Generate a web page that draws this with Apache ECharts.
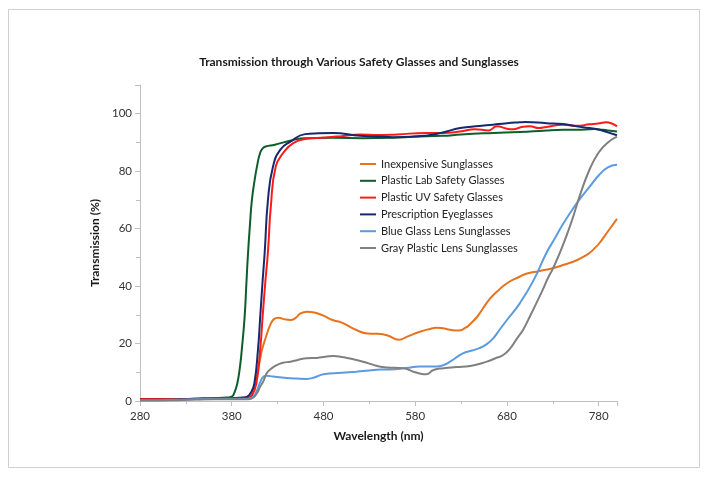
<!DOCTYPE html>
<html>
<head>
<meta charset="utf-8">
<script src="https://cdn.jsdelivr.net/npm/echarts@6/dist/echarts.min.js"></script>
<style>
html,body{margin:0;padding:0;background:#fff;}
#chart{width:709px;height:477px;}
</style>
</head>
<body>
<div id="chart"></div>
<script>
var titleText = 'Transmission through Various Safety Glasses and Sunglasses';
var xAxisName = 'Wavelength (nm)';
var yAxisName = 'Transmission (%)';
var seriesNames = ['Inexpensive Sunglasses','Plastic Lab Safety Glasses','Plastic UV Safety Glasses','Prescription Eyeglasses','Blue Glass Lens Sunglasses','Gray Plastic Lens Sunglasses'];
var seriesColors = ['#E8731E','#0E5E2C','#FF1A1A','#16296E','#5B9BE0','#808080'];

var inexpensive = [[280,0.5],[300,0.5],[320,0.6],[340,0.8],[360,1.0],[380,1],[398,1.2],[402,2.5],[406,7],[410,13],[413,17.8],[417,22],[422,26.5],[426,28.5],[431,29],[437,28.5],[444,28.2],[450,29],[455,30.5],[462,31.1],[470,30.8],[480,29.7],[490,28.2],[500,27.3],[516,24.7],[528,23.5],[538,23.4],[550,22.8],[562,21.3],[572,22.5],[585,24.1],[595,25],[603,25.5],[610,25.3],[618,24.8],[627,24.5],[635,25.5],[640,26.8],[648,29.5],[654,32.3],[662,35.8],[669,38],[676,40],[683,41.6],[692,43],[701,44.3],[715,45.2],[730,46.2],[743,47.5],[756,49],[765,50.5],[770,51.5],[776,53.3],[781,55],[790,59],[800,63.4]];
var labSafety = [[280,0.5],[300,0.5],[320,0.6],[340,0.8],[360,1.0],[375,1.2],[380,1.5],[383,3],[386,6],[389,12],[391,18],[394,29],[396,41],[397.5,50],[400,62],[402,70],[405,77],[407.5,81.6],[411,86.4],[414,88],[417,88.6],[427,89.2],[445,90.7],[460,91.5],[490,91.6],[523,91.5],[560,91.7],[593,92.2],[610,92.3],[630,92.8],[665,93.3],[694,93.6],[723,94.2],[741,94.4],[756,94.4],[775,94.7],[781,94.5],[790,94.2],[800,93.8]];
var uvSafety = [[280,0.7],[300,0.7],[320,0.6],[340,0.8],[360,1.0],[380,1.0],[398,1.2],[402,1.8],[406.8,6],[411,17.8],[413.6,29],[416.5,41],[419.5,52],[422.7,68],[428,81.6],[436.5,86.5],[447,89.8],[460,91.2],[482,91.7],[500,92.2],[520,92.8],[540,92.6],[560,92.8],[592,93.3],[610,93.3],[629,93.8],[645,94.6],[660,94.2],[669,95.6],[680,94.8],[687,94.6],[695,95.3],[705,95.6],[715,95.0],[723,95.4],[741,96.2],[756,95.8],[770,96.3],[781,96.7],[788,97],[795,96.5],[800,95.6]];
var prescription = [[280,0.4],[300,0.4],[320,0.5],[340,0.7],[360,0.9],[380,1],[393,1.2],[397,1.5],[401,3],[404.6,6],[408.6,17.8],[411,29],[413.5,41],[416,52],[419.5,70],[425,81.6],[433,87.5],[444,90.3],[460,92.9],[475,93.2],[490,93.3],[520,92.3],[545,92],[560,91.8],[593,92.4],[610,93.5],[629,95],[650,95.7],[665,96.2],[680,96.7],[694,97],[700,97.1],[723,96.7],[741,96.4],[756,95.6],[770,95],[781,94.4],[790,93.5],[800,92.5]];
var blueGlass = [[280,0.3],[300,0.3],[320,0.4],[340,0.6],[360,0.8],[380,0.8],[398,0.8],[403.6,1.5],[408,4],[411,6.5],[414.7,8.5],[418,8.8],[425,8.5],[440,8.0],[451,7.8],[462,7.7],[470,8.2],[480,9.3],[500,9.8],[516,10.2],[530,10.6],[542,11],[553,11],[570,11.5],[585,12],[603,12],[610,12.4],[618,13.7],[632,16.6],[642,17.6],[650,18.4],[658,19.8],[665,21.8],[672,24.8],[680,28.2],[694,34],[709,42],[723,51.5],[732,56.5],[740,61],[750,66],[760,70.5],[770,74.5],[780,78.5],[790,81.3],[800,82.2]];
var grayPlastic = [[280,0.2],[300,0.2],[320,0.3],[340,0.5],[360,0.6],[380,0.6],[398,0.6],[403.6,1.2],[408,3],[411,5],[414.7,7],[418,9.6],[422,11],[429,12.5],[436,13.3],[444,13.7],[452,14.3],[462,14.9],[473,15],[482,15.4],[491,15.7],[500,15.3],[516,14.3],[530,13],[541,12],[549,11.7],[567,11.4],[578,10.2],[586,9.5],[592,9.3],[600,10.8],[611,11.4],[625,11.8],[640,12.2],[658,13.7],[667,14.8],[676,16],[684,18.5],[690,21.3],[698,25],[705,29.4],[712,34],[719,38.7],[725,43],[730,46],[739,52.6],[750,62],[760,72],[770,80.5],[780,86.5],[790,90],[800,92]];

var seriesData = [inexpensive, labSafety, uvSafety, prescription, blueGlass, grayPlastic];
var FONT = 'Lato, "Open Sans", sans-serif';

var chart = echarts.init(document.getElementById('chart'), null, {renderer:'canvas'});
var series = seriesData.map(function(d, i){
  return {
    name: seriesNames[i], type:'line', data:d, symbol:'none', showSymbol:false,
    smooth:0.5,
    lineStyle:{width:2, color:seriesColors[i]}, itemStyle:{color:seriesColors[i]},
    z: 2 + i
  };
});
chart.setOption({
  animation:false,
  backgroundColor:'#fff',
  graphic:[
    {type:'rect', shape:{x:8.5,y:9.5,width:691,height:458}, style:{fill:'none', stroke:'#d0d0d0', lineWidth:1}, silent:true},
    {type:'text', x:359, y:62, style:{text:titleText, font:'bold 12px Lato, sans-serif', fill:'#1a1a1a', textAlign:'center', textVerticalAlign:'middle'}}
  ],
  grid:{left:140, right:92, top:85, bottom:76, containLabel:false},
  legend:{
    orient:'vertical', left:360, top:157, padding:0, icon:'rect', itemWidth:16, itemHeight:2, itemGap:2.8,
    data:seriesNames,
    textStyle:{fontFamily:FONT, fontSize:11, color:'#222', lineHeight:14}
  },
  xAxis:{
    type:'value', min:280, max:800, interval:100,
    name:xAxisName, nameLocation:'middle', nameGap:29,
    nameTextStyle:{fontFamily:FONT, fontSize:12, fontWeight:'bold', color:'#1a1a1a'},
    axisLine:{show:true, lineStyle:{color:'#bfbfbf', width:1}},
    axisTick:{show:true, length:5, lineStyle:{color:'#bfbfbf'}},
    minorTick:{show:true, splitNumber:2, length:3, lineStyle:{color:'#bfbfbf'}},
    splitLine:{show:false},
    axisLabel:{fontFamily:FONT, fontSize:11.5, color:'#333', margin:9, showMaxLabel:false,
      formatter:function(v){ return v === 800 ? '' : String(v); }}
  },
  yAxis:{
    type:'value', min:0, max:110, interval:20,
    name:yAxisName, nameLocation:'middle', nameGap:37, nameRotate:90,
    nameTextStyle:{fontFamily:FONT, fontSize:12, fontWeight:'bold', color:'#1a1a1a'},
    axisLine:{show:true, lineStyle:{color:'#bfbfbf', width:1}},
    axisTick:{show:true, length:5, lineStyle:{color:'#bfbfbf'}},
    minorTick:{show:true, splitNumber:2, length:4, lineStyle:{color:'#bfbfbf'}},
    splitLine:{show:false},
    axisLabel:{fontFamily:FONT, fontSize:11.5, color:'#333', margin:8, showMaxLabel:false,
      formatter:function(v){ return v === 110 ? '' : String(v); }}
  },
  series:series
});
</script>
</body>
</html>
